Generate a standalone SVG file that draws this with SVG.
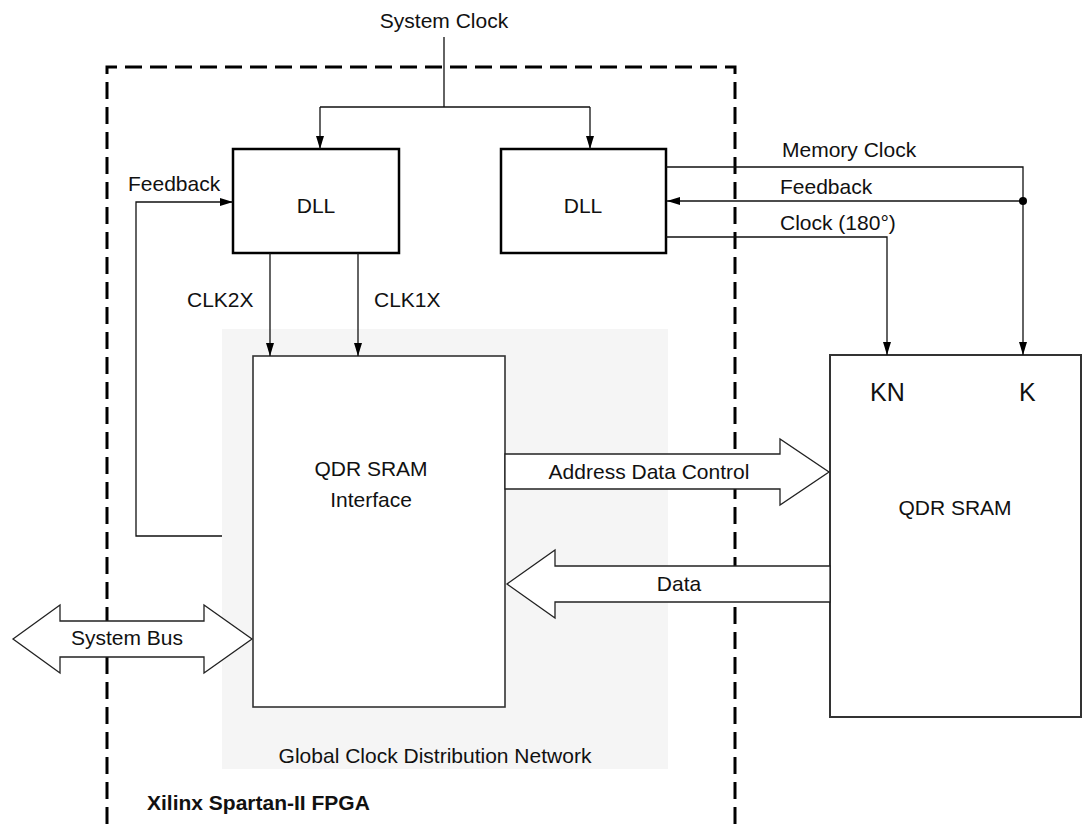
<svg xmlns="http://www.w3.org/2000/svg" width="1084" height="824" viewBox="0 0 1084 824">
<defs>
<style>
text{font-family:"Liberation Sans",Arial,Helvetica,sans-serif;font-size:21px;fill:#111}
.c{text-anchor:middle}
.box{fill:#fff;stroke:#000;stroke-width:2.5}
.thin{fill:#fff;stroke:#333;stroke-width:1.6}
.ln{fill:none;stroke:#111;stroke-width:1.3}
.bus{fill:#fff;stroke:#222;stroke-width:1.3}
</style>
<marker id="arr" viewBox="0 0 13 8" refX="13" refY="4" markerWidth="13" markerHeight="8" orient="auto" markerUnits="userSpaceOnUse"><path d="M0,0 L13,4 L0,8 z" fill="#000"/></marker>
</defs>
<rect width="1084" height="824" fill="#fff"/>
<g id="fpga">
<path d="M107,824 V67 H735 V824" fill="none" stroke="#000" stroke-width="3" stroke-dasharray="17 8"/>
<text x="147" y="810" style="font-weight:bold">Xilinx Spartan-II FPGA</text>
</g>
<g id="gcdn">
<rect x="222" y="329" width="446" height="440" fill="#f5f5f5"/>
<text class="c" x="435" y="763">Global Clock Distribution Network</text>
</g>
<g id="dll1">
<rect class="box" x="233" y="149" width="166" height="104"/>
<text class="c" x="316" y="213">DLL</text>
</g>
<g id="dll2">
<rect class="box" x="501" y="149" width="165" height="104"/>
<text class="c" x="583" y="213">DLL</text>
</g>
<g id="qdr-if">
<rect class="thin" x="253" y="356" width="252" height="351"/>
<text class="c" x="371" y="476">QDR SRAM</text>
<text class="c" x="371" y="507">Interface</text>
</g>
<g id="qdr-sram">
<rect class="thin" x="830" y="355" width="251" height="362" style="stroke-width:2"/>
<text x="870" y="401" style="font-size:25px">KN</text>
<text x="1019" y="401" style="font-size:25px">K</text>
<text class="c" x="955" y="515">QDR SRAM</text>
</g>
<g id="connectors">
<text class="c" x="444" y="28">System Clock</text>
<path class="ln" d="M444,37 V107 M320,107 H590"/>
<path class="ln" d="M320,107 V149" marker-end="url(#arr)"/>
<path class="ln" d="M590,107 V149" marker-end="url(#arr)"/>
<path class="ln" d="M222,536 H136 V202 H233" marker-end="url(#arr)"/>
<text x="128" y="191">Feedback</text>
<path class="ln" d="M270,253 V356" marker-end="url(#arr)"/>
<path class="ln" d="M358,253 V356" marker-end="url(#arr)"/>
<text x="187" y="307">CLK2X</text>
<text x="374" y="307">CLK1X</text>
<path class="ln" d="M666,167 H1023 V355" marker-end="url(#arr)"/>
<path class="ln" d="M1023,201 H667" marker-end="url(#arr)"/>
<circle cx="1023" cy="201" r="4" fill="#000"/>
<path class="ln" d="M666,237 H887 V355" marker-end="url(#arr)"/>
<text x="782" y="157">Memory Clock</text>
<text x="780" y="194">Feedback</text>
<text x="780" y="230">Clock (180°)</text>
<polygon class="bus" points="505,454 780,454 780,439 829,472 780,505 780,489 505,489"/>
<text class="c" x="649" y="479">Address Data Control</text>
<polygon class="bus" points="830,566 555,566 555,550 507,584 555,618 555,602 830,602"/>
<text class="c" x="679" y="591">Data</text>
<polygon class="bus" points="13,639 60,605 60,621 204,621 204,605 252,639 204,673 204,657 60,657 60,673"/>
<text class="c" x="127" y="645">System Bus</text>
</g>
</svg>
